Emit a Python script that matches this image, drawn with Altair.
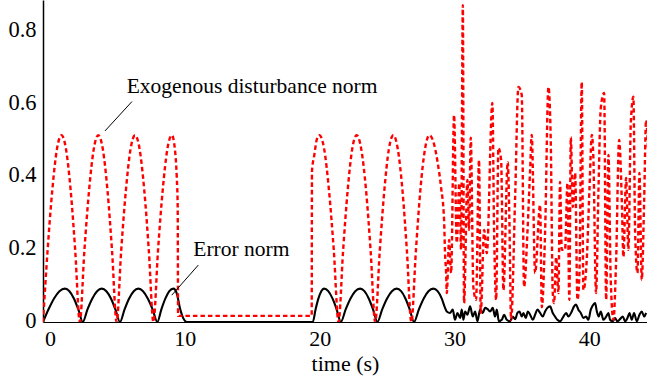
import altair as alt
import pandas as pd

# Exogenous disturbance norm (red dotted)
red_t = [-0.52, -0.18, 0.17, 0.51, 0.85, 1.19, 1.53, 1.87, 2.21,
         2.55, 2.90, 3.24, 3.58, 3.92, 4.26, 4.60, 4.94,
         5.28, 5.63, 5.97, 6.31, 6.65, 6.99, 7.33, 7.67,
         8.01, 8.36, 8.70, 9.04, 9.27, 9.40, 9.47, 9.50,
         19.41, 19.43, 19.60, 19.80, 19.98, 20.34, 20.69, 21.05, 21.40,
         21.74, 22.08, 22.41, 22.75, 23.09, 23.44, 23.78, 24.12,
         24.46, 24.80, 25.13, 25.47, 25.80, 26.14, 26.47, 26.80,
         27.14, 27.47, 27.81, 28.14, 28.41, 28.76, 29.00, 29.23, 29.30, 29.38,
         29.43, 29.60, 29.75, 29.97, 30.17, 30.36, 30.49, 30.62, 30.71, 30.96,
         31.08, 31.21, 31.40, 31.60, 31.82, 31.95, 32.20, 32.40, 32.81, 32.94,
         33.09, 33.26, 33.46, 33.63, 33.95, 34.07, 34.20, 34.50, 34.74, 34.99,
         35.16, 35.41, 35.61, 35.73, 35.98, 36.35, 36.48, 36.72, 36.97, 37.14,
         37.29, 37.39, 37.54, 37.71, 37.83, 37.96, 38.20, 38.38, 38.52, 38.63,
         38.78, 38.95, 39.12, 39.27, 39.44, 39.56, 39.81, 40.01, 40.19, 40.30,
         40.50, 40.68, 40.85, 41.10, 41.25, 41.42, 41.59, 41.79, 41.99, 42.21,
         42.41, 42.53, 42.73, 42.90, 43.08, 43.27, 43.40, 43.57, 43.72, 43.89,
         44.07, 44.21, 44.36]
red_v = [0, 0.197, 0.364, 0.476, 0.515, 0.476, 0.364, 0.197, 0,
         0.197, 0.364, 0.476, 0.515, 0.476, 0.364, 0.197, 0,
         0.197, 0.364, 0.476, 0.515, 0.476, 0.364, 0.197, 0,
         0.197, 0.364, 0.476, 0.515, 0.474, 0.40, 0.32, 0.017,
         0.017, 0.415, 0.46, 0.505, 0.515, 0.476, 0.364, 0.197, 0,
         0.197, 0.364, 0.476, 0.515, 0.476, 0.364, 0.197, 0,
         0.197, 0.364, 0.476, 0.515, 0.476, 0.364, 0.197, 0,
         0.197, 0.364, 0.476, 0.515, 0.50, 0.438, 0.373, 0.28, 0.19, 0.135,
         0.08, 0.226, 0.135, 0.571, 0.218, 0.383, 0.2, 0.874, 0.052, 0.392,
         0.254, 0.508, 0.097, 0.061, 0.447, 0.025, 0.254, 0.19, 0.604, 0.246,
         0.061, 0.48, 0.447, 0.088, 0.441, 0.29, 0.006, 0.345, 0.648, 0.626,
         0.097, 0.246, 0.419, 0.516, 0.135, 0.323, 0.041, 0.246, 0.648, 0.502,
         0.08, 0.052, 0.179, 0.08, 0.386, 0.199, 0.199, 0.383, 0.061, 0.51,
         0.317, 0.411, 0.061, 0.135, 0.662, 0.088, 0.171, 0.364, 0.516, 0.455,
         0.08, 0.364, 0.59, 0.632, 0.061, 0.461, 0.116, 0.006, 0.171, 0.502,
         0.337, 0.179, 0.397, 0.199, 0.549, 0.621, 0.246, 0.135, 0.411, 0.116,
         0.337, 0.557, 0.475]

# Error norm (black solid)
err_t = [-0.52, -0.11, 0.30, 0.70, 1.11, 1.44, 1.77, 2.10, 2.43,
         2.78, 3.14, 3.49, 3.84, 4.18, 4.52, 4.85, 5.19,
         5.53, 5.87, 6.21, 6.55, 6.90, 7.25, 7.61, 7.96,
         8.26, 8.56, 8.85, 9.15, 9.40, 9.64, 9.89, 10.14, 19.49,
         19.70, 19.91, 20.12, 20.33, 20.64, 20.95, 21.26, 21.57,
         21.93, 22.29, 22.64, 23.00, 23.32, 23.64, 23.96, 24.28,
         24.64, 25.00, 25.36, 25.72, 26.04, 26.36, 26.68, 27.00,
         27.36, 27.72, 28.07, 28.43, 28.75, 29.05, 29.30,
         29.43, 29.67, 29.87, 30.04, 30.22, 30.42, 30.54, 30.66, 30.79, 30.96,
         31.16, 31.36, 31.53, 31.70, 31.90, 32.10, 32.27, 32.44, 32.64, 32.84,
         33.01, 33.14, 33.29, 33.51, 33.68, 33.88, 34.12, 34.32, 34.50, 34.67,
         34.82, 34.99, 35.11, 35.29, 35.44, 35.61, 35.81, 35.98, 36.15, 36.35,
         36.55, 36.72, 36.89, 37.09, 37.29, 37.46, 37.63, 37.83, 38.08, 38.28,
         38.45, 38.70, 38.87, 39.02, 39.19, 39.37, 39.56, 39.76, 39.93, 40.11,
         40.30, 40.43, 40.56, 40.70, 40.85, 41.05, 41.25, 41.42, 41.54, 41.74,
         41.91, 42.08, 42.28, 42.48, 42.66, 42.83, 42.98, 43.15, 43.32, 43.52,
         43.72, 43.89, 44.07, 44.21]
err_v = [0, 0.035, 0.065, 0.085, 0.092, 0.085, 0.065, 0.035, 0,
         0.035, 0.065, 0.085, 0.092, 0.085, 0.065, 0.035, 0,
         0.035, 0.065, 0.085, 0.092, 0.085, 0.065, 0.035, 0,
         0.035, 0.065, 0.085, 0.092, 0.079, 0.038, 0.010, 0, 0,
         0.035, 0.065, 0.085, 0.092, 0.085, 0.065, 0.035, 0,
         0.035, 0.065, 0.085, 0.092, 0.085, 0.065, 0.035, 0,
         0.035, 0.065, 0.085, 0.092, 0.085, 0.065, 0.035, 0,
         0.035, 0.065, 0.085, 0.092, 0.085, 0.065, 0.039,
         0.029, 0.025, 0.034, 0.006, 0.025, 0.011, 0.034, 0.006, 0.029, 0.020,
         0.043, 0.015, 0.029, 0.002, 0.034, 0.025, 0.039, 0.036, 0.029, 0.039,
         0.015, 0.034, 0.002, 0.006, 0.020, 0.006, 0.002, 0.015, 0.008, 0.025,
         0.029, 0.015, 0.025, 0.011, 0.029, 0.020, 0.006, 0.020, 0.034, 0.025,
         0.015, 0.029, 0.039, 0.043, 0.025, 0.015, 0.006, 0.002, 0.015, 0.025,
         0.015, 0.029, 0.043, 0.048, 0.034, 0.025, 0.011, 0.015, 0.006, 0.034,
         0.048, 0.052, 0.029, 0.015, 0.029, 0.006, 0.015, 0.025, 0.006, 0.002,
         0.011, 0.002, 0.008, 0.015, 0.002, 0.011, 0.025, 0.006, 0.025, 0.002,
         0.020, 0.029, 0.015, 0.025]

# Annotations
ann_text = ["Exogenous disturbance norm", "Error norm"]
ann_t = [5.69, 10.63]
ann_v = [0.631, 0.182]
lead_t1 = [6.08, 11.00]
lead_v1 = [0.608, 0.157]
lead_t2 = [4.08, 9.03]
lead_v2 = [0.527, 0.074]

x_ticks = [0, 10, 20, 30, 40]
y_ticks = [0, 0.2, 0.4, 0.6, 0.8]

FONT = "Liberation Serif"

red_df = pd.DataFrame({"t": red_t, "v": red_v})
err_df = pd.DataFrame({"t": err_t, "v": err_v})
ann_df = pd.DataFrame({"text": ann_text, "t": ann_t, "v": ann_v})
lead_df = pd.DataFrame({"t1": lead_t1, "v1": lead_v1, "t2": lead_t2, "v2": lead_v2})

xscale = alt.Scale(domain=[-0.52, 44.28], nice=False, zero=False)
yscale = alt.Scale(domain=[0, 0.888], nice=False, zero=False)

xaxis = alt.Axis(values=x_ticks, format="d", title="time (s)", grid=False,
                 ticks=False, labelFont=FONT, labelFontSize=22, labelColor="black",
                 labelPadding=6, titleFont=FONT, titleFontSize=22,
                 titleFontWeight="normal", titleColor="black",
                 titleBaseline="alphabetic", titleY=48,
                 domainColor="black", domainWidth=1, labelFlush=False)
yaxis = alt.Axis(values=y_ticks, title=None, grid=False, ticks=False,
                 labelExpr="datum.value == 0 ? '0' : format(datum.value, '.1f')",
                 labelFont=FONT, labelFontSize=22.5, labelColor="black",
                 labelPadding=7, labelOffset=-2, domainColor="black",
                 domainWidth=1.5, labelFlush=False)

err_line = alt.Chart(err_df).mark_line(color="black", strokeWidth=2.1, clip=True,
                                        interpolate="monotone").encode(
    x=alt.X("t:Q", scale=xscale, axis=xaxis),
    y=alt.Y("v:Q", scale=yscale, axis=yaxis),
    order="t:Q",
)
red_line = alt.Chart(red_df).mark_line(color="#ff0000", strokeWidth=2.4,
                                        strokeDash=[4.5, 3], clip=True,
                                        interpolate="monotone").encode(
    x=alt.X("t:Q", scale=xscale),
    y=alt.Y("v:Q", scale=yscale),
    order="t:Q",
)
leaders = alt.Chart(lead_df).mark_rule(color="black", strokeWidth=1).encode(
    x=alt.X("t1:Q", scale=xscale), y=alt.Y("v1:Q", scale=yscale),
    x2="t2:Q", y2="v2:Q",
)
labels = alt.Chart(ann_df).mark_text(align="left", baseline="alphabetic",
                                     font=FONT, fontSize=21.5, color="black").encode(
    x=alt.X("t:Q", scale=xscale), y=alt.Y("v:Q", scale=yscale), text="text:N",
)

chart = alt.layer(err_line, red_line, leaders, labels).properties(
    width=604, height=322,
    padding={"left": 43, "top": 0, "right": 0, "bottom": 57},
    autosize=alt.AutoSizeParams(type="none"),
    background="white",
).configure_view(stroke=None)

chart.save("out.html", embed_options={"renderer": "svg", "actions": False})
